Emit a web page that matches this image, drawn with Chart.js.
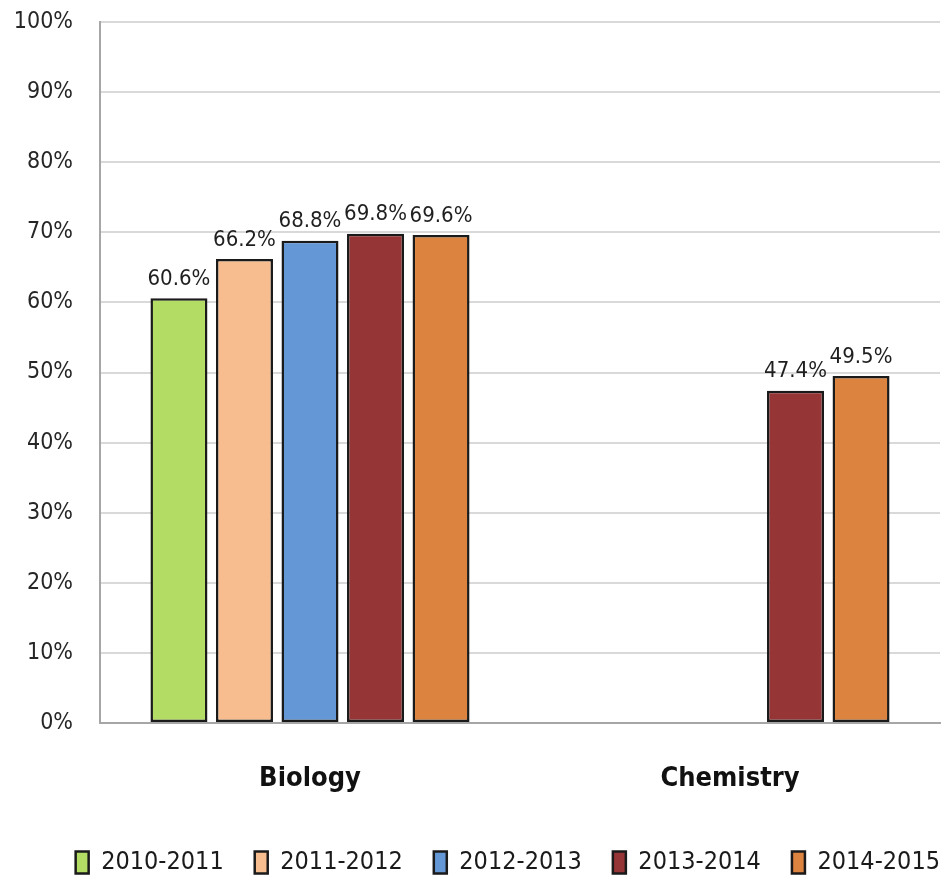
<!DOCTYPE html>
<html>
<head>
<meta charset="utf-8">
<script src="https://cdn.jsdelivr.net/npm/chart.js@4.4.1/dist/chart.umd.min.js"></script>
<style>
  html, body { margin: 0; padding: 0; background: #fff; overflow: hidden; }
  #wrap { width: 945px; height: 880px; }
</style>
</head>
<body>
<div id="wrap"><canvas id="chart"></canvas></div>
<script>
const subjects = ["Biology", "Chemistry"];
const years = ["2010-2011", "2011-2012", "2012-2013", "2013-2014", "2014-2015"];
const rate2010 = [60.6, null];
const rate2011 = [66.2, null];
const rate2012 = [68.8, null];
const rate2013 = [69.8, 47.4];
const rate2014 = [69.6, 49.5];
const yStep = 10;
const yMax = 100;

const colors = ["#b3dc64", "#f8bd8e", "#6497d6", "#953535", "#dc833f"];
const FONT = '"DejaVu Sans Condensed", "DejaVu Sans", sans-serif';

const series = [rate2010, rate2011, rate2012, rate2013, rate2014];

// value labels on top of each bar
const barLabels = {
  id: "barLabels",
  afterDatasetsDraw(chart) {
    const ctx = chart.ctx;
    ctx.save();
    ctx.font = "22px " + FONT;
    ctx.fillStyle = "#1f1f1f";
    ctx.textAlign = "center";
    ctx.textBaseline = "bottom";
    chart.data.datasets.forEach((ds, i) => {
      chart.getDatasetMeta(i).data.forEach((bar, j) => {
        const v = ds.data[j];
        if (v === null) return;
        ctx.fillText(v.toFixed(1) + "%", bar.x, bar.y - 8);
      });
    });
    ctx.restore();
  },
};

new Chart(document.getElementById("chart"), {
  type: "bar",
  data: {
    labels: subjects,
    datasets: years.map((y, i) => ({
      label: y,
      data: series[i],
      backgroundColor: colors[i],
      borderColor: "#1a1a1a",
      borderWidth: 2.5,
      borderSkipped: false,
      categoryPercentage: 0.78,
      barPercentage: 0.87,
    })),
  },
  options: {
    responsive: true,
    maintainAspectRatio: false,
    animation: false,
    layout: { padding: { top: 22, left: 0, right: -26, bottom: -5 } },
    scales: {
      x: {
        grid: { display: false },
        border: { color: "#a6a6a6", width: 2 },
        ticks: {
          color: "#111",
          font: { family: FONT, size: 27, weight: "bold" },
          padding: 32,
        },
        afterFit(scale) { scale.height = 96; },
      },
      y: {
        min: 0,
        max: yMax,
        // invisible tick marks keep the labels away from the axis
        grid: { color: "#d9d9d9", lineWidth: 2, tickColor: "rgba(0,0,0,0)", tickLength: 24 },
        border: { color: "#a6a6a6", width: 2 },
        ticks: {
          stepSize: yStep,
          autoSkip: false,
          color: "#262626",
          font: { family: FONT, size: 23 },
          padding: 3,
          callback: (v) => v + "%",
        },
        afterFit(scale) { scale.width = 100; },
      },
      // empty right-hand strip so the legend can run to the right edge
      spacer: {
        position: "right",
        grid: { display: false },
        border: { display: false },
        ticks: { display: false },
        afterFit(scale) { scale.width = 31; },
      },
    },
    plugins: {
      legend: {
        position: "bottom",
        align: "end",
        labels: {
          color: "#1a1a1a",
          font: { family: FONT, size: 25 },
          boxWidth: 13,
          boxHeight: 22,
          padding: 31,
        },
      },
      tooltip: { enabled: false },
    },
  },
  plugins: [barLabels],
});
</script>
</body>
</html>
